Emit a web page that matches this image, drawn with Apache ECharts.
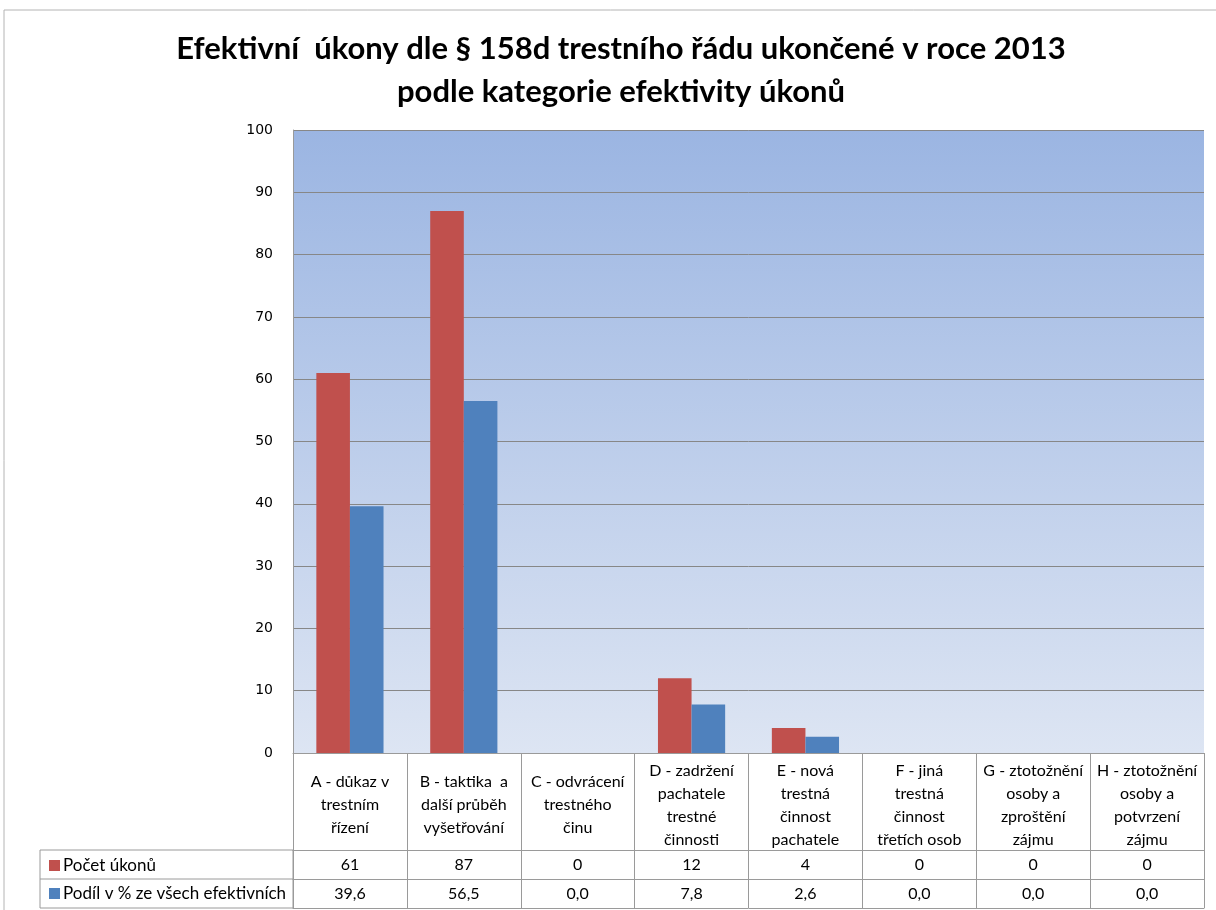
<!DOCTYPE html>
<html>
<head>
<meta charset="utf-8">
<script src="https://cdn.jsdelivr.net/npm/echarts@6/dist/echarts.min.js"></script>
<style>
  html, body { margin: 0; padding: 0; background: #fff; }
  #chart { width: 1216px; height: 910px; }
</style>
</head>
<body>
<div id="chart"></div>
<script>
  const categories = [
    'A - důkaz v\ntrestním\nřízení',
    'B - taktika  a\ndalší průběh\nvyšetřování',
    'C - odvrácení\ntrestného\nčinu',
    'D - zadržení\npachatele\ntrestné\nčinnosti',
    'E - nová\ntrestná\nčinnost\npachatele',
    'F - jiná\ntrestná\nčinnost\ntřetích osob',
    'G - ztotožnění\nosoby a\nzproštění\nzájmu',
    'H - ztotožnění\nosoby a\npotvrzení\nzájmu'
  ]
  const pocetUkonu = [61, 87, 0, 12, 4, 0, 0, 0]
  const podil = [39.6, 56.5, 0.0, 7.8, 2.6, 0.0, 0.0, 0.0]
  const yTicks = { min: 0, max: 100, interval: 10 }
  const seriesNames = ['Počet úkonů', 'Podíl v % ze všech efektivních']

  const RED = '#c0504d'
  const BLUE = '#4f81bd'
  const LINE = '#9a9a9a'
  const labelFont = 'Lato, "Open Sans", sans-serif'

  const idx = categories.map((_, i) => String(i))
  const fmtPct = (v) => v.toFixed(1).replace('.', ',')

  const chart = echarts.init(document.getElementById('chart'))

  // table rows under the plot are extra category axes pushed down with offset
  const tableAxis = (offset, values) => ({
    type: 'category',
    data: idx,
    position: 'bottom',
    offset: offset,
    axisLine: { show: true, lineStyle: { color: LINE } },
    axisTick: { show: false },
    axisLabel: {
      interval: 0,
      margin: 15,
      verticalAlign: 'middle',
      color: '#000',
      fontFamily: labelFont,
      fontSize: 16,
      formatter: (v, i) => values[i]
    }
  })

  chart.setOption({
    animation: false,
    title: {
      text: 'Efektivní  úkony dle § 158d trestního řádu ukončené v roce 2013\npodle kategorie efektivity úkonů',
      left: 616,
      top: 22,
      textAlign: 'center',
      textStyle: {
        fontFamily: labelFont,
        fontWeight: 'bold',
        fontSize: 31,
        lineHeight: 43,
        color: '#000'
      }
    },
    legend: {
      orient: 'vertical',
      left: 44,
      top: 852,
      height: 60,
      itemGap: 11,
      itemWidth: 11,
      itemHeight: 11,
      icon: 'rect',
      selectedMode: false,
      textStyle: { fontFamily: labelFont, fontSize: 17, color: '#000', padding: [0, 0, 0, -2] },
      data: seriesNames
    },
    grid: {
      left: 293,
      right: 12,
      top: 130,
      bottom: 157,
      show: true,
      borderWidth: 0,
      backgroundColor: new echarts.graphic.LinearGradient(0, 0, 0, 1, [
        { offset: 0, color: '#9bb5e2' },
        { offset: 1, color: '#dde5f3' }
      ])
    },
    xAxis: [
      {
        type: 'category',
        data: categories,
        axisLine: { show: true, lineStyle: { color: LINE } },
        axisTick: { show: true, length: 155, alignWithLabel: false, interval: 0, lineStyle: { color: LINE } },
        axisLabel: {
          interval: 0,
          margin: 52,
          verticalAlign: 'middle',
          lineHeight: 23,
          color: '#000',
          fontFamily: labelFont,
          fontSize: 16
        }
      },
      tableAxis(97, pocetUkonu.map(String)),
      tableAxis(126, podil.map(fmtPct)),
      {
        type: 'category',
        data: idx,
        position: 'bottom',
        offset: 155,
        axisLine: { show: true, lineStyle: { color: LINE } },
        axisTick: { show: false },
        axisLabel: { show: false }
      }
    ],
    yAxis: {
      type: 'value',
      min: yTicks.min,
      max: yTicks.max,
      interval: yTicks.interval,
      axisLine: { show: true, lineStyle: { color: LINE } },
      axisTick: { show: false },
      axisLabel: {
        margin: 20,
        color: '#000',
        fontFamily: '"DejaVu Sans", Verdana, sans-serif',
        fontSize: 14
      },
      splitLine: { lineStyle: { color: '#878787' } }
    },
    graphic: [
      {
        type: 'rect',
        shape: { x: 4, y: 10, width: 1300, height: 1000 },
        style: { fill: 'none', stroke: '#b4b4b4', lineWidth: 1 },
        silent: true
      },
      {
        type: 'rect',
        shape: { x: 40, y: 850, width: 253, height: 58 },
        style: { fill: 'none', stroke: LINE, lineWidth: 1 },
        silent: true
      },
      {
        type: 'line',
        shape: { x1: 40, y1: 879, x2: 293, y2: 879 },
        style: { stroke: LINE, lineWidth: 1 },
        silent: true
      }
    ],
    series: [
      {
        name: seriesNames[0],
        type: 'bar',
        barGap: 0,
        barCategoryGap: '41%',
        itemStyle: { color: RED },
        data: pocetUkonu
      },
      {
        name: seriesNames[1],
        type: 'bar',
        barGap: 0,
        barCategoryGap: '41%',
        itemStyle: { color: BLUE },
        data: podil
      }
    ]
  })
</script>
</body>
</html>
